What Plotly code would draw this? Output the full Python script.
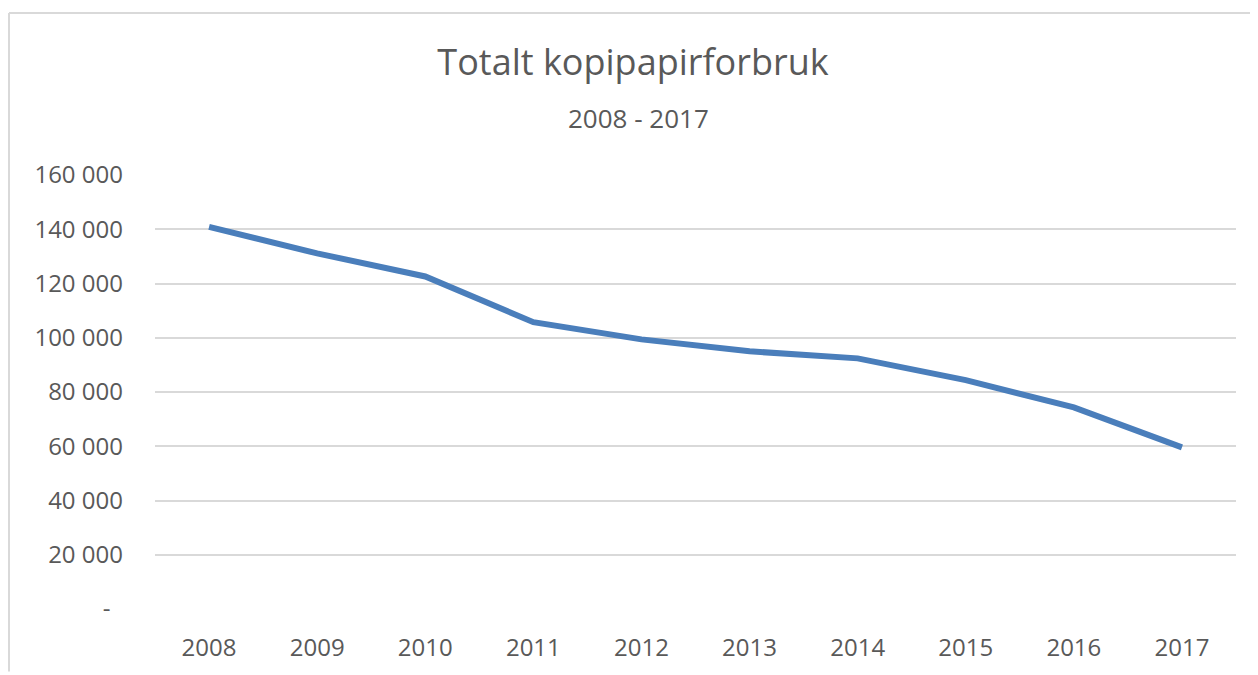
import plotly.graph_objects as go

years = ["2008", "2009", "2010", "2011", "2012", "2013", "2014", "2015", "2016", "2017"]
forbruk = [140900, 131100, 122600, 105750, 99400, 95000, 92400, 84400, 74300, 59600]

y_ticks = [0, 20000, 40000, 60000, 80000, 100000, 120000, 140000, 160000]
y_labels = ["-\u00a0\u00a0", "20 000", "40 000", "60 000", "80 000",
            "100 000", "120 000", "140 000", "160 000"]

text_color = "#595959"
font_family = "Open Sans"

# page has an 8px body margin, so the figure is 8px smaller than the window
W, H = 1250, 667
L, R, T, B = 147, 22, 167, 63
pw, ph = W - L - R, H - T - B

fig = go.Figure()
fig.add_trace(go.Scatter(
    x=years,
    y=forbruk,
    mode="lines",
    line=dict(color="#4a7ebb", width=6),
    hoverinfo="x+y"
))

fig.update_layout(
    width=W,
    height=H,
    paper_bgcolor="white",
    plot_bgcolor="white",
    showlegend=False,
    margin=dict(l=L, r=R, t=T, b=B),
    font=dict(family=font_family, color=text_color, size=24),
    title=dict(
        text="Totalt kopipapirforbruk",
        x=0.5, xanchor="center",
        y=1 - 54 / H, yanchor="middle",
        font=dict(size=36, color=text_color, family=font_family)
    ),
    annotations=[dict(
        text="2008 - 2017",
        xref="paper", yref="paper",
        x=(630 - L) / pw, y=1 + (T - 110) / ph,
        xanchor="center", yanchor="middle",
        showarrow=False,
        font=dict(size=26, color=text_color, family=font_family)
    )],
    xaxis=dict(
        type="category",
        range=[-0.5, 9.5],
        showgrid=False,
        showline=False,
        zeroline=False,
        ticks="",
        ticklabelstandoff=22,
        tickfont=dict(size=24, color=text_color)
    ),
    yaxis=dict(
        range=[0, 160000],
        tickvals=y_ticks,
        ticktext=y_labels,
        showgrid=True,
        gridcolor="#d9d9d9",
        gridwidth=2,
        zeroline=False,
        showline=False,
        ticks="",
        ticklabelstandoff=31,
        tickfont=dict(size=24, color=text_color)
    ),
    shapes=[
        dict(type="line", xref="paper", yref="paper",
             x0=(1 - L) / pw, x1=(W - L) / pw,
             y0=1 + (T - 4) / ph, y1=1 + (T - 4) / ph,
             line=dict(color="#d9d9d9", width=2)),
        dict(type="line", xref="paper", yref="paper",
             x0=(1 - L) / pw, x1=(1 - L) / pw,
             y0=1 + (T - 4) / ph, y1=-B / ph,
             line=dict(color="#d9d9d9", width=2)),
    ]
)

fig.write_html("out.html")
